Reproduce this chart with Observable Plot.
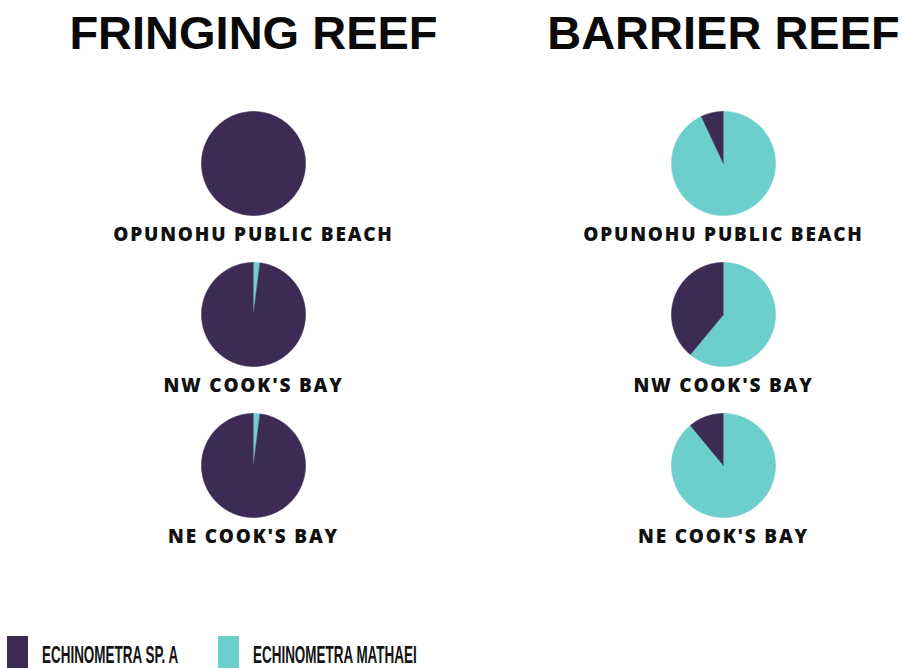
<!DOCTYPE html>
<html>
<head>
<meta charset="utf-8">
<script src="https://cdn.jsdelivr.net/npm/d3@7"></script>
<script src="https://cdn.jsdelivr.net/npm/@observablehq/plot@0.6"></script>
<style>
  html, body { margin: 0; padding: 0; background: #fff; overflow: hidden; }
  #chart { width: 903px; height: 668px; position: relative; }
  .lg-swatches { margin: 36px 0 0 7px !important; min-height: 0 !important; flex-wrap: nowrap !important; }
  .lg-swatch { margin-right: 0 !important; white-space: nowrap; }
  .lg-swatch > svg { margin-right: 14px !important; flex: none; }
  .lg-swatches, .lg-swatch { font-family: "Liberation Sans", Arial, sans-serif; font-weight: bold; font-size: 23px; color: #151515; }
  .lg-text { display: inline-block; transform: scaleX(0.585); transform-origin: 0 50%; position: relative; top: 2px; }
  g[font-size="19"] text { letter-spacing: 1.8px; }
</style>
</head>
<body>
<div id="chart"></div>
<script>
// ---- data ----
const reefs = ["FRINGING REEF", "BARRIER REEF"];
const sites = ["OPUNOHU PUBLIC BEACH", "NW COOK'S BAY", "NE COOK'S BAY"];
const species = ["ECHINOMETRA SP. A", "ECHINOMETRA MATHAEI"];
// percentage of Echinometra sp. A at each site (rest = E. mathaei)
const fringingSpA = [100, 98, 98];
const barrierSpA = [7, 39, 11];

const speciesColors = ["#3c2b55", "#6dcfcb"];

// ---- build pie wedge outlines (clockwise from 12 o'clock: mathaei, then sp. A) ----
const shares = [];
reefs.forEach((reef, ri) => {
  const spA = ri === 0 ? fringingSpA : barrierSpA;
  sites.forEach((site, si) => {
    shares.push({reef, site, species: species[1], value: 100 - spA[si]});
    shares.push({reef, site, species: species[0], value: spA[si]});
  });
});

const wedgePoints = [];
d3.groups(shares, d => d.reef, d => d.site).forEach(([reef, bySite]) => {
  bySite.forEach(([site, rows]) => {
    const arcs = d3.pie().sort(null).value(d => d.value)(rows);
    arcs.forEach((a, i) => {
      if (a.endAngle - a.startAngle <= 0) return;
      const id = `${reef}|${site}|${i}`;
      const full = a.endAngle - a.startAngle >= 2 * Math.PI - 1e-9;
      if (!full) wedgePoints.push({id, reef, site, species: a.data.species, x: 0, y: 0});
      const n = Math.max(2, Math.ceil((a.endAngle - a.startAngle) / (Math.PI / 180)));
      for (let k = 0; k <= n; ++k) {
        const t = a.startAngle + (a.endAngle - a.startAngle) * k / n;
        wedgePoints.push({id, reef, site, species: a.data.species, x: Math.sin(t), y: Math.cos(t)});
      }
    });
  });
});

const labelRows = reefs.flatMap(reef => sites.map(site => ({reef, site})));
const titleRows = reefs.map(reef => ({reef, site: sites[0]}));

const plot = Plot.plot({
  width: 903,
  height: 600,
  marginLeft: 188,
  marginRight: 115,
  marginTop: 98,
  marginBottom: 70,
  fx: {domain: reefs, axis: null, paddingInner: 1 - 130 / 470, paddingOuter: 0, round: false},
  fy: {domain: sites, axis: null, paddingInner: 1 - 130 / 151, paddingOuter: 0, round: false},
  x: {domain: [-1.25, 1.25], axis: null},
  y: {domain: [-1.25, 1.25], axis: null},
  color: {domain: species, range: speciesColors},
  marks: [
    Plot.line(wedgePoints, {
      x: "x", y: "y", z: "id", fx: "reef", fy: "site",
      fill: "species", stroke: "species", strokeWidth: 0.6, curve: "linear"
    }),
    Plot.text(labelRows, {
      fx: "reef", fy: "site", text: "site", frameAnchor: "bottom", dy: 6,
      lineAnchor: "middle", fontSize: 19, fontWeight: 800,
      fontFamily: "'Open Sans', sans-serif", fill: "#111"
    }),
    Plot.text(titleRows, {
      fx: "reef", fy: "site", text: "reef", frameAnchor: "top", dy: -65,
      lineAnchor: "middle", fontSize: 47, fontWeight: "bold",
      fontFamily: "'Liberation Sans', Arial, sans-serif", fill: "#0a0a0a"
    })
  ]
});

const legend = Plot.legend({
  color: {type: "ordinal", domain: species, range: speciesColors},
  legend: "swatches",
  swatchWidth: 21,
  swatchHeight: 34,
  className: "lg"
});

// wrap each legend label so it can be drawn condensed, as in the reference
const swatches = legend.querySelectorAll(".lg-swatch");
swatches.forEach(sw => {
  sw.childNodes.forEach(node => {
    if (node.nodeType === 3 && node.textContent.trim()) {
      const span = document.createElement("span");
      span.className = "lg-text";
      span.textContent = node.textContent;
      sw.replaceChild(span, node);
    }
  });
});
if (swatches.length) {
  Object.assign(swatches[0].style, {flex: "0 0 211px", width: "211px", minWidth: "0", overflow: "visible"});
}

const chart = document.getElementById("chart");
chart.appendChild(plot);
chart.appendChild(legend);
</script>
</body>
</html>
